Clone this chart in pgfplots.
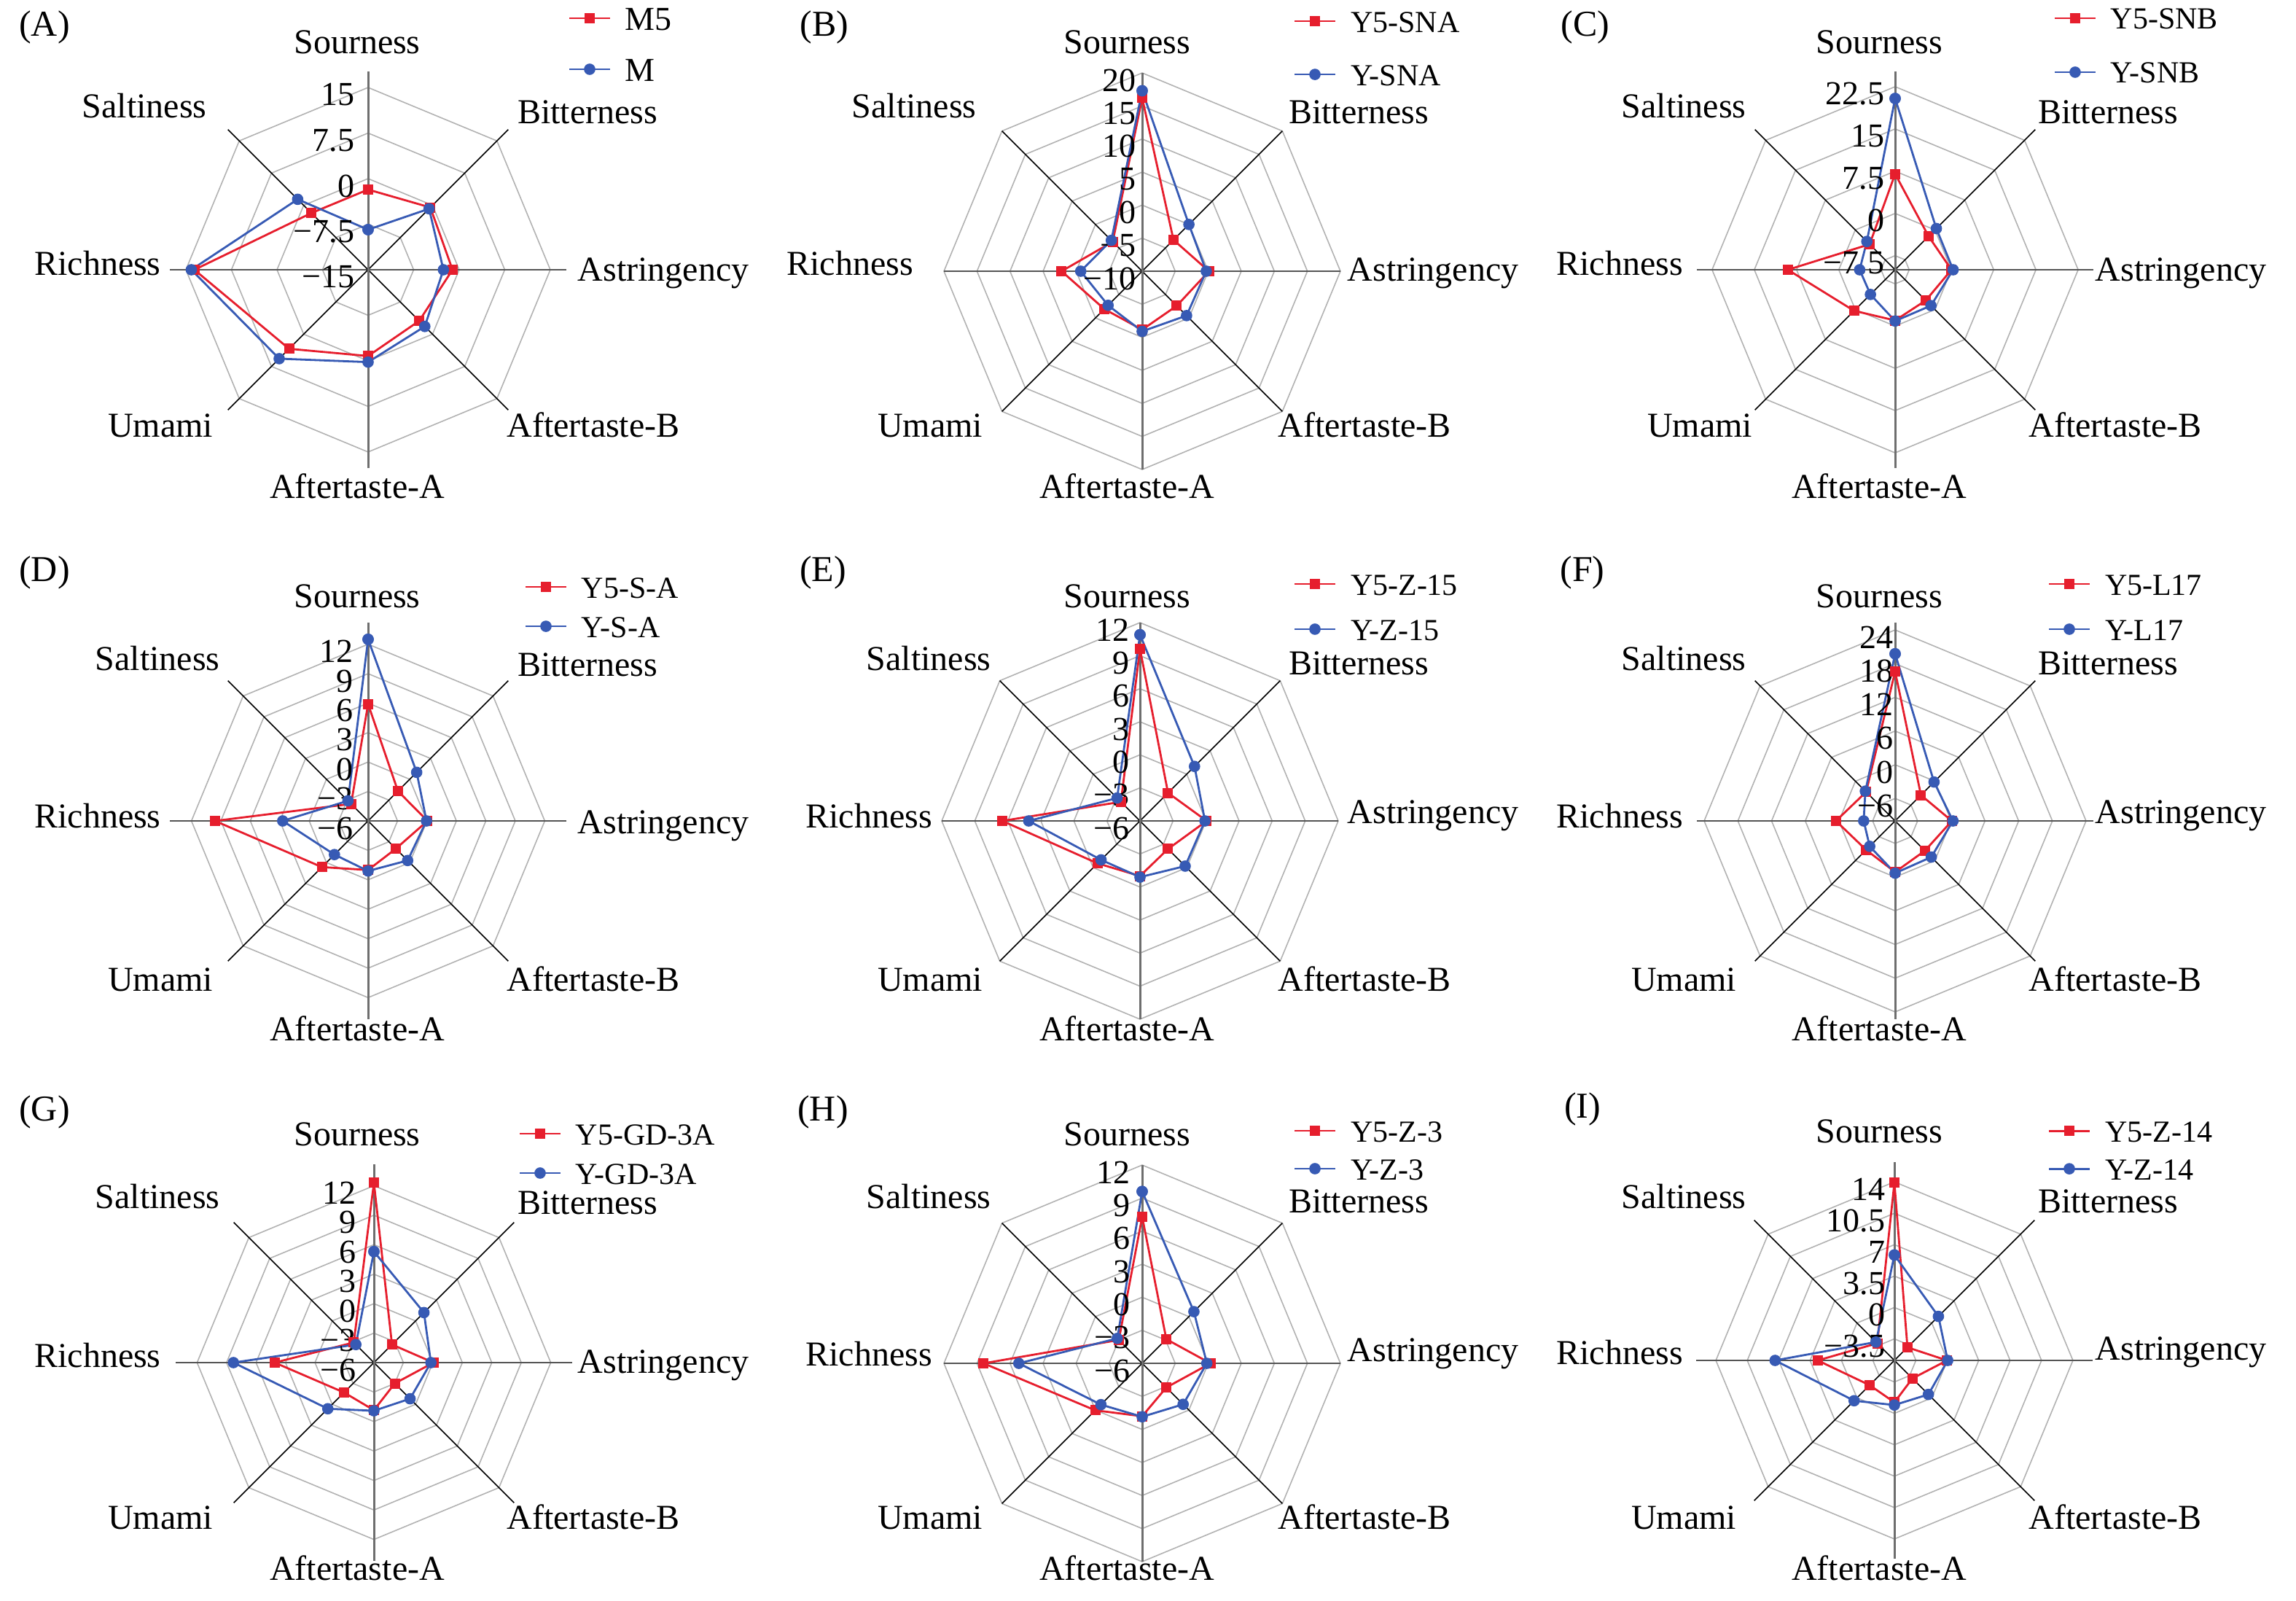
\documentclass[border=0pt]{standalone}
\usepackage{fontspec}
\setmainfont{Liberation Serif}
\usepackage{pgfplots}
\usepackage{pgfplotstable}
\pgfplotsset{compat=1.18}
\usepgfplotslibrary{polar}

\definecolor{cred}{RGB}{230,30,45}
\definecolor{cblue}{RGB}{55,90,180}
\definecolor{ringc}{RGB}{178,178,178}
\definecolor{spv}{RGB}{110,110,110}
\definecolor{sph}{RGB}{85,85,85}

\newcommand\catfont{\fontsize{12}{14}\selectfont}
\newcommand\tickfont{\fontsize{11.5}{13}\selectfont}
\newcommand\legfont{\fontsize{10.5}{12}\selectfont}
\newcommand\letfont{\fontsize{12.5}{15}\selectfont}

% columns: angle, first series (red), second series (blue)
\pgfplotstableread{
a r b
90 -1.8 -8.4
45 -0.5 -0.8
0 -1.1 -2.6
-45 -3.1 -1.8
-90 -0.8 0.2
-135 3.4 5.7
180 13.6 14.1
135 -1.8 1.4
90 -1.8 -8.4
}\tA
\pgfplotstableread{
a r b
90 16.2 17.3
45 -3.3 0.0
0 0.1 -0.3
-45 -2.6 -0.5
-90 -1.15 -0.9
-135 -1.9 -2.7
180 2.2 -0.7
135 -3.7 -3.4
90 16.2 17.3
}\tB
\pgfplotstableread{
a r b
90 7.0 20.4
45 -1.6 0.35
0 0.0 0.3
-45 -2.3 -1.0
-90 -1.0 -0.9
-135 0.3 -3.8
180 9.05 -3.7
135 -3.6 -2.9
90 7.0 20.4
}\tC
\pgfplotstableread{
a r b
90 5.9 12.5
45 -1.7 1.0
0 0.05 -0.05
-45 -2.0 -0.3
-90 -1.0 -0.9
-135 0.65 -1.15
180 9.6 2.7
135 -3.55 -3.1
90 5.9 12.5
}\tD
\pgfplotstableread{
a r b
90 9.6 10.9
45 -2.4 1.0
0 0.05 -0.1
-45 -2.4 -0.2
-90 -1.0 -0.9
-135 -0.55 -1.0
180 6.5 4.1
135 -3.55 -3.06
90 9.6 10.9
}\tE
\pgfplotstableread{
a r b
90 16.6 19.75
45 -3.5 -0.2
0 0.1 0.3
-45 -2.5 -0.9
-90 -0.9 -0.7
-135 -2.7 -3.6
180 0.54 -4.4
135 -2.7 -2.5
90 16.6 19.75
}\tF
\pgfplotstableread{
a r b
90 12.3 5.3
45 -3.4 1.2
0 0.06 -0.2
-45 -3.0 -0.8
-90 -1.16 -1.1
-135 -1.7 0.64
180 4.1 8.3
135 -3.1 -3.4
90 12.3 5.3
}\tG
\pgfplotstableread{
a r b
90 7.3 9.6
45 -2.9 0.64
0 0.2 -0.13
-45 -2.9 -0.74
-90 -1.2 -1.15
-135 0.03 -0.7
180 8.4 5.2
135 -3.0 -2.8
90 7.3 9.6
}\tH
\pgfplotstableread{
a r b
90 13.9 5.85
45 -3.84 1.04
0 -0.03 0.04
-45 -3.06 -0.54
-90 -1.23 -0.93
-135 -2.0 0.45
180 2.65 7.4
135 -3.2 -3.0
90 13.9 5.85
}\tI

\pgfplotsset{
  radar/.style={width=136pt,height=136pt,scale only axis,hide axis,clip=false,
    anchor=center,xmin=-#1,xmax=#1,ymin=-#1,ymax=#1,data cs=polar},
  legend style={draw=none,fill=none,inner sep=0pt,outer sep=0pt,anchor=north west,
    column sep=5pt,nodes={inner sep=0pt,text height=7.5pt,text depth=0pt,font=\legfont}},
  legend cell align=left,
  legend image code/.code={\draw[mark repeat=2,mark phase=2,#1]
    plot coordinates {(0pt,0pt) (6.9pt,0pt) (13.8pt,0pt)};},
  gridring/.style={color=ringc,line width=0.4pt,forget plot,mark=none},
  spokev/.style={color=spv,line width=0.75pt,forget plot,mark=none},
  spokeh/.style={color=sph,line width=0.6pt,forget plot,mark=none},
  spoked/.style={color=black,line width=0.4pt,forget plot,mark=none},
  sred/.style={color=cred,line width=0.7pt,mark=square*,mark size=1.4pt},
  sblue/.style={color=cblue,line width=0.7pt,mark=*,mark size=1.6pt},
}
\tikzset{ticklab/.style={anchor=east,inner sep=0pt,font=\tickfont,yshift=-2.5pt}}

\newcommand\radargrid[2]{%
  \pgfplotsinvokeforeach{#2}{\addplot[gridring] coordinates
    {(90,##1) (45,##1) (0,##1) (-45,##1) (-90,##1) (-135,##1) (180,##1) (135,##1) (90,##1)};}
  \addplot[spokeh] coordinates {(0,#1) (180,#1)};
  \addplot[spoked] coordinates {(45,#1) (-135,#1)};
  \addplot[spoked] coordinates {(135,#1) (-45,#1)};
  \addplot[spokev] coordinates {(90,#1) (-90,#1)};
}
\newcommand\tlab[2]{\pgfmathsetmacro\tlv{0.5+#1/(2*\L)}%
  \edef\tlcmd{\noexpand\node[ticklab,xshift=\tx] at (rel axis cs:0.5,\tlv) {\unexpanded{#2}};}\tlcmd}

\begin{document}
\begin{tikzpicture}
\path[use as bounding box] (0,0) rectangle (787.5pt,-549pt);

% (A)
\def\L{32.64}\def\tx{-4.5pt}
\begin{axis}[radar=32.64,at={(126.25pt,-92.5pt)},legend style={at={(1.0055,1.1636)},row sep=9.5pt,nodes={text height=8pt,font=\fontsize{11.5}{13}\selectfont}}]
\radargrid{32.64}{7.5,15,22.5,30}
\addplot[sred] table[x=a,y expr=\thisrow{r}+15]{\tA}; \addlegendentry{M5}
\addplot[sblue] table[x=a,y expr=\thisrow{b}+15]{\tA}; \addlegendentry{M}
\tlab{0}{−15}\tlab{7.5}{−7.5}\tlab{15}{0}\tlab{22.5}{7.5}\tlab{30}{15}
\end{axis}

% (B)
\def\L{30}\def\tx{-2pt}
\begin{axis}[radar=30,at={(391.75pt,-93pt)},legend style={at={(0.8824,1.158)},row sep=10.75pt}]
\radargrid{30}{5,10,15,20,25,30}
\addplot[sred] table[x=a,y expr=\thisrow{r}+10]{\tB}; \addlegendentry{Y5-SNA}
\addplot[sblue] table[x=a,y expr=\thisrow{b}+10]{\tB}; \addlegendentry{Y-SNA}
\tlab{0}{−10}\tlab{5}{−5}\tlab{10}{0}\tlab{15}{5}\tlab{20}{10}\tlab{25}{15}\tlab{30}{20}
\end{axis}

% (C)
\def\L{35.2}\def\tx{-3.5pt}
\begin{axis}[radar=35.2,at={(650pt,-92.5pt)},legend style={at={(0.9007,1.1618)},row sep=11pt}]
\radargrid{35.2}{2.5,10,17.5,25,32.5}
\addplot[sred] table[x=a,y expr=\thisrow{r}+10]{\tC}; \addlegendentry{Y5-SNB}
\addplot[sblue] table[x=a,y expr=\thisrow{b}+10]{\tC}; \addlegendentry{Y-SNB}
\tlab{2.5}{−7.5}\tlab{10}{0}\tlab{17.5}{7.5}\tlab{25}{15}\tlab{32.5}{22.5}
\end{axis}

% (D)
\def\L{20.2}\def\tx{-5pt}
\begin{axis}[radar=20.2,at={(126.25pt,-281.5pt)},legend style={at={(0.8952,1.1176)},row sep=6pt}]
\radargrid{20.2}{3,6,9,12,15,18}
\addplot[sred] table[x=a,y expr=\thisrow{r}+6]{\tD}; \addlegendentry{Y5-S-A}
\addplot[sblue] table[x=a,y expr=\thisrow{b}+6]{\tD}; \addlegendentry{Y-S-A}
\tlab{0}{−6}\tlab{3}{−3}\tlab{6}{0}\tlab{9}{3}\tlab{12}{6}\tlab{15}{9}\tlab{18}{12}
\end{axis}

% (E)
\def\L{18}\def\tx{-3.5pt}
\begin{axis}[radar=18,at={(391pt,-281.5pt)},legend style={at={(0.8879,1.125)},row sep=8pt}]
\radargrid{18}{3,6,9,12,15,18}
\addplot[sred] table[x=a,y expr=\thisrow{r}+6]{\tE}; \addlegendentry{Y5-Z-15}
\addplot[sblue] table[x=a,y expr=\thisrow{b}+6]{\tE}; \addlegendentry{Y-Z-15}
\tlab{0}{−6}\tlab{3}{−3}\tlab{6}{0}\tlab{9}{3}\tlab{12}{6}\tlab{15}{9}\tlab{18}{12}
\end{axis}

% (F)
\def\L{35.3}\def\tx{-0.5pt}
\begin{axis}[radar=35.3,at={(650pt,-281.5pt)},legend style={at={(0.886,1.125)},row sep=8pt}]
\radargrid{35.3}{4,10,16,22,28,34}
\addplot[sred] table[x=a,y expr=\thisrow{r}+10]{\tF}; \addlegendentry{Y5-L17}
\addplot[sblue] table[x=a,y expr=\thisrow{b}+10]{\tF}; \addlegendentry{Y-L17}
\tlab{4}{−6}\tlab{10}{0}\tlab{16}{6}\tlab{22}{12}\tlab{28}{18}\tlab{34}{24}
\end{axis}

% (G)
\def\L{20.18}\def\tx{-6pt}
\begin{axis}[radar=20.18,at={(128.25pt,-467.25pt)},legend style={at={(0.8658,1.1048)},row sep=6pt}]
\radargrid{20.18}{3,6,9,12,15,18}
\addplot[sred] table[x=a,y expr=\thisrow{r}+6]{\tG}; \addlegendentry{Y5-GD-3A}
\addplot[sblue] table[x=a,y expr=\thisrow{b}+6]{\tG}; \addlegendentry{Y-GD-3A}
\tlab{0}{−6}\tlab{3}{−3}\tlab{6}{0}\tlab{9}{3}\tlab{12}{6}\tlab{15}{9}\tlab{18}{12}
\end{axis}

% (H)
\def\L{18}\def\tx{-4pt}
\begin{axis}[radar=18,at={(391.75pt,-467.5pt)},legend style={at={(0.8824,1.114)},row sep=5.5pt}]
\radargrid{18}{3,6,9,12,15,18}
\addplot[sred] table[x=a,y expr=\thisrow{r}+6]{\tH}; \addlegendentry{Y5-Z-3}
\addplot[sblue] table[x=a,y expr=\thisrow{b}+6]{\tH}; \addlegendentry{Y-Z-3}
\tlab{0}{−6}\tlab{3}{−3}\tlab{6}{0}\tlab{9}{3}\tlab{12}{6}\tlab{15}{9}\tlab{18}{12}
\end{axis}

% (I)
\def\L{22.1}\def\tx{-3pt}
\begin{axis}[radar=22.1,at={(649.75pt,-466.5pt)},legend style={at={(0.8879,1.1064)},row sep=5.5pt}]
\radargrid{22.1}{2.4,5.9,9.4,12.9,16.4,19.9}
\addplot[sred] table[x=a,y expr=\thisrow{r}+5.9]{\tI}; \addlegendentry{Y5-Z-14}
\addplot[sblue] table[x=a,y expr=\thisrow{b}+5.9]{\tI}; \addlegendentry{Y-Z-14}
\tlab{2.4}{−3.5}\tlab{5.9}{0}\tlab{9.4}{3.5}\tlab{12.9}{7}\tlab{16.4}{10.5}\tlab{19.9}{14}
\end{axis}

% category names and panel letters
\begin{scope}[x=0.25pt,y=-0.25pt,every node/.style={font=\catfont,inner sep=0pt,text height=1.5ex,text depth=0pt}]
\foreach \x/\y/\t in {490/60/Sourness,806/156/Bitterness,910/372/Astringency,814/586/Aftertaste-B,490/670/Aftertaste-A,220/586/Umami,134/364/Richness,198/148/Saltiness}
  \node at (\x,\y) {\t};
\foreach \x/\y/\t in {1546/60/Sourness,1864/156/Bitterness,1966/372/Astringency,1872/586/Aftertaste-B,1546/670/Aftertaste-A,1276/586/Umami,1166/364/Richness,1254/148/Saltiness}
  \node at (\x,\y) {\t};
\foreach \x/\y/\t in {2578/60/Sourness,2892/156/Bitterness,2992/372/Astringency,2902/586/Aftertaste-B,2578/670/Aftertaste-A,2332/586/Umami,2222/364/Richness,2310/148/Saltiness}
  \node at (\x,\y) {\t};
\foreach \x/\y/\t in {490/820/Sourness,806/914/Bitterness,910/1130/Astringency,814/1346/Aftertaste-B,490/1414/Aftertaste-A,220/1346/Umami,134/1122/Richness,216/906/Saltiness}
  \node at (\x,\y) {\t};
\foreach \x/\y/\t in {1546/820/Sourness,1864/912/Bitterness,1966/1116/Astringency,1872/1346/Aftertaste-B,1546/1414/Aftertaste-A,1276/1346/Umami,1192/1122/Richness,1274/906/Saltiness}
  \node at (\x,\y) {\t};
\foreach \x/\y/\t in {2578/820/Sourness,2892/912/Bitterness,2992/1116/Astringency,2902/1346/Aftertaste-B,2578/1414/Aftertaste-A,2310/1346/Umami,2222/1122/Richness,2310/906/Saltiness}
  \node at (\x,\y) {\t};
\foreach \x/\y/\t in {490/1558/Sourness,806/1652/Bitterness,910/1870/Astringency,814/2084/Aftertaste-B,490/2154/Aftertaste-A,220/2084/Umami,134/1862/Richness,216/1644/Saltiness}
  \node at (\x,\y) {\t};
\foreach \x/\y/\t in {1546/1558/Sourness,1864/1650/Bitterness,1966/1854/Astringency,1872/2084/Aftertaste-B,1546/2154/Aftertaste-A,1276/2084/Umami,1192/1860/Richness,1274/1644/Saltiness}
  \node at (\x,\y) {\t};
\foreach \x/\y/\t in {2578/1554/Sourness,2892/1650/Bitterness,2992/1852/Astringency,2902/2084/Aftertaste-B,2578/2154/Aftertaste-A,2310/2084/Umami,2222/1858/Richness,2310/1644/Saltiness}
  \node at (\x,\y) {\t};
\foreach \x/\y/\t in {61/36/A,1131/36/B,2175/36/C,61/784/D,1129/784/E,2171/784/F,61/1524/G,1129/1524/H,2171/1520/I}
  \node[font=\letfont] at (\x,\y) {(\t)};
\end{scope}
\end{tikzpicture}
\end{document}
